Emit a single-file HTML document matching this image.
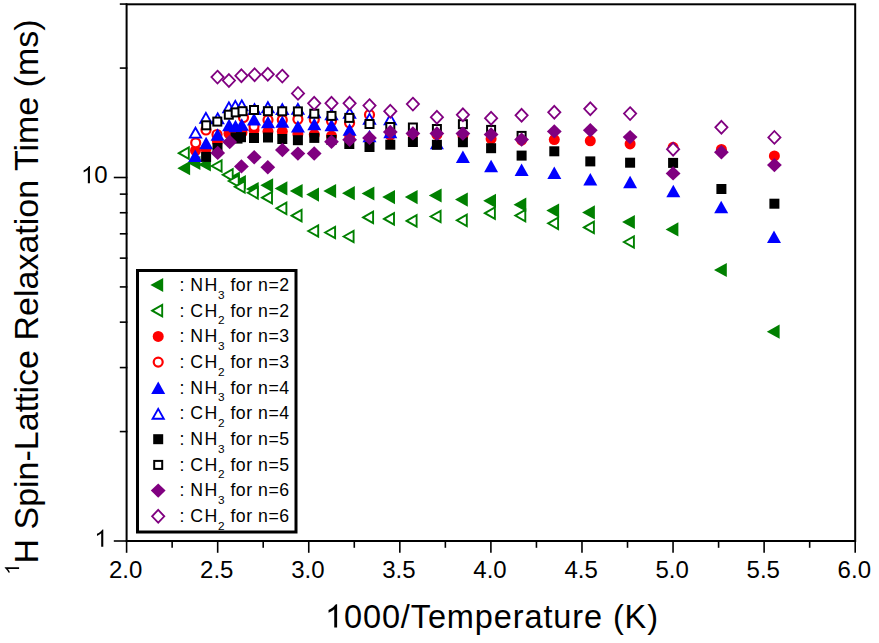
<!DOCTYPE html><html><head><meta charset="utf-8"><style>html,body{margin:0;padding:0;background:#fff;}svg{display:block;}text{font-family:"Liberation Sans",sans-serif;}</style></head><body>
<svg width="879" height="643" viewBox="0 0 879 643">
<rect width="879" height="643" fill="#fff"/>
<g>
<path d="M177.3 168.2L190.1 161.1L190.1 175.3Z" fill="#008000"/>
<path d="M187.6 163L200.4 155.9L200.4 170.1Z" fill="#008000"/>
<path d="M198.1 164.5L210.9 157.4L210.9 171.6Z" fill="#008000"/>
<path d="M227.1 178.5L239.9 171.4L239.9 185.6Z" fill="#008000"/>
<path d="M233.1 182L245.9 174.9L245.9 189.1Z" fill="#008000"/>
<path d="M245.9 189L258.7 181.9L258.7 196.1Z" fill="#008000"/>
<path d="M260.3 185.3L273.1 178.2L273.1 192.4Z" fill="#008000"/>
<path d="M274.6 188.4L287.4 181.3L287.4 195.5Z" fill="#008000"/>
<path d="M289.8 191L302.6 183.9L302.6 198.1Z" fill="#008000"/>
<path d="M306.2 194.6L319 187.5L319 201.7Z" fill="#008000"/>
<path d="M323.3 191L336.1 183.9L336.1 198.1Z" fill="#008000"/>
<path d="M342 193.2L354.8 186.1L354.8 200.3Z" fill="#008000"/>
<path d="M361.6 193.5L374.4 186.4L374.4 200.6Z" fill="#008000"/>
<path d="M382.2 197.1L395 190L395 204.2Z" fill="#008000"/>
<path d="M404.8 197.1L417.6 190L417.6 204.2Z" fill="#008000"/>
<path d="M428.8 195.5L441.6 188.4L441.6 202.6Z" fill="#008000"/>
<path d="M455 199.6L467.8 192.5L467.8 206.7Z" fill="#008000"/>
<path d="M483.2 200.8L496 193.7L496 207.9Z" fill="#008000"/>
<path d="M513.5 204.7L526.3 197.6L526.3 211.8Z" fill="#008000"/>
<path d="M546.3 210.6L559.1 203.5L559.1 217.7Z" fill="#008000"/>
<path d="M582.1 212.4L594.9 205.3L594.9 219.5Z" fill="#008000"/>
<path d="M622.1 222L634.9 214.9L634.9 229.1Z" fill="#008000"/>
<path d="M665.6 229.4L678.4 222.3L678.4 236.5Z" fill="#008000"/>
<path d="M714 270L726.8 262.9L726.8 277.1Z" fill="#008000"/>
<path d="M766.8 331.7L779.6 324.6L779.6 338.8Z" fill="#008000"/>
<path d="M178.8 153.2L188.8 147.5L188.8 158.9Z" fill="#fff" stroke="#008000" stroke-width="1.9" stroke-linejoin="miter"/>
<path d="M211.6 166L221.6 160.3L221.6 171.7Z" fill="#fff" stroke="#008000" stroke-width="1.9" stroke-linejoin="miter"/>
<path d="M222.7 174.8L232.7 169.1L232.7 180.5Z" fill="#fff" stroke="#008000" stroke-width="1.9" stroke-linejoin="miter"/>
<path d="M228.7 181L238.7 175.3L238.7 186.7Z" fill="#fff" stroke="#008000" stroke-width="1.9" stroke-linejoin="miter"/>
<path d="M234.7 186.8L244.7 181.1L244.7 192.5Z" fill="#fff" stroke="#008000" stroke-width="1.9" stroke-linejoin="miter"/>
<path d="M247.8 192.8L257.8 187.1L257.8 198.5Z" fill="#fff" stroke="#008000" stroke-width="1.9" stroke-linejoin="miter"/>
<path d="M262 197.7L272 192L272 203.4Z" fill="#fff" stroke="#008000" stroke-width="1.9" stroke-linejoin="miter"/>
<path d="M276.4 208.3L286.4 202.6L286.4 214Z" fill="#fff" stroke="#008000" stroke-width="1.9" stroke-linejoin="miter"/>
<path d="M291.6 215.7L301.6 210L301.6 221.4Z" fill="#fff" stroke="#008000" stroke-width="1.9" stroke-linejoin="miter"/>
<path d="M308.2 231L318.2 225.3L318.2 236.7Z" fill="#fff" stroke="#008000" stroke-width="1.9" stroke-linejoin="miter"/>
<path d="M325.1 232.5L335.1 226.8L335.1 238.2Z" fill="#fff" stroke="#008000" stroke-width="1.9" stroke-linejoin="miter"/>
<path d="M343.6 236.5L353.6 230.8L353.6 242.2Z" fill="#fff" stroke="#008000" stroke-width="1.9" stroke-linejoin="miter"/>
<path d="M363.1 217.4L373.1 211.7L373.1 223.1Z" fill="#fff" stroke="#008000" stroke-width="1.9" stroke-linejoin="miter"/>
<path d="M384 218.9L394 213.2L394 224.6Z" fill="#fff" stroke="#008000" stroke-width="1.9" stroke-linejoin="miter"/>
<path d="M406.6 220.9L416.6 215.2L416.6 226.6Z" fill="#fff" stroke="#008000" stroke-width="1.9" stroke-linejoin="miter"/>
<path d="M430.6 216.5L440.6 210.8L440.6 222.2Z" fill="#fff" stroke="#008000" stroke-width="1.9" stroke-linejoin="miter"/>
<path d="M456.8 220.3L466.8 214.6L466.8 226Z" fill="#fff" stroke="#008000" stroke-width="1.9" stroke-linejoin="miter"/>
<path d="M484.9 213.2L494.9 207.5L494.9 218.9Z" fill="#fff" stroke="#008000" stroke-width="1.9" stroke-linejoin="miter"/>
<path d="M515.3 215.6L525.3 209.9L525.3 221.3Z" fill="#fff" stroke="#008000" stroke-width="1.9" stroke-linejoin="miter"/>
<path d="M548.1 223.3L558.1 217.6L558.1 229Z" fill="#fff" stroke="#008000" stroke-width="1.9" stroke-linejoin="miter"/>
<path d="M583.9 227.4L593.9 221.7L593.9 233.1Z" fill="#fff" stroke="#008000" stroke-width="1.9" stroke-linejoin="miter"/>
<path d="M623.9 242L633.9 236.3L633.9 247.7Z" fill="#fff" stroke="#008000" stroke-width="1.9" stroke-linejoin="miter"/>
<circle cx="195.5" cy="150.5" r="5.5" fill="#ff0000"/>
<circle cx="206" cy="149" r="5.5" fill="#ff0000"/>
<circle cx="217.4" cy="141.5" r="5.5" fill="#ff0000"/>
<circle cx="229" cy="133.5" r="5.5" fill="#ff0000"/>
<circle cx="235.7" cy="132.5" r="5.5" fill="#ff0000"/>
<circle cx="242" cy="132.5" r="5.5" fill="#ff0000"/>
<circle cx="254" cy="130" r="5.5" fill="#ff0000"/>
<circle cx="268" cy="131.5" r="5.5" fill="#ff0000"/>
<circle cx="282.3" cy="131.5" r="5.5" fill="#ff0000"/>
<circle cx="297.9" cy="134" r="5.5" fill="#ff0000"/>
<circle cx="314.3" cy="134.5" r="5.5" fill="#ff0000"/>
<circle cx="331.5" cy="136" r="5.5" fill="#ff0000"/>
<circle cx="349.6" cy="135.5" r="5.5" fill="#ff0000"/>
<circle cx="369.5" cy="139" r="5.5" fill="#ff0000"/>
<circle cx="390.3" cy="135" r="5.5" fill="#ff0000"/>
<circle cx="412.9" cy="134" r="5.5" fill="#ff0000"/>
<circle cx="436.9" cy="134.5" r="5.5" fill="#ff0000"/>
<circle cx="462.9" cy="135.4" r="5.5" fill="#ff0000"/>
<circle cx="491.1" cy="138.8" r="5.5" fill="#ff0000"/>
<circle cx="521.6" cy="140" r="5.5" fill="#ff0000"/>
<circle cx="554.3" cy="139.6" r="5.5" fill="#ff0000"/>
<circle cx="590.3" cy="140.8" r="5.5" fill="#ff0000"/>
<circle cx="630.1" cy="143.9" r="5.5" fill="#ff0000"/>
<circle cx="673.1" cy="147.3" r="5.5" fill="#ff0000"/>
<circle cx="721.4" cy="149.5" r="5.5" fill="#ff0000"/>
<circle cx="774.4" cy="155.9" r="5.5" fill="#ff0000"/>
<circle cx="195.7" cy="142.8" r="4.5" fill="#fff" stroke="#ff0000" stroke-width="2.2"/>
<circle cx="206" cy="130" r="4.5" fill="#fff" stroke="#ff0000" stroke-width="2.2"/>
<circle cx="217" cy="134.5" r="4.5" fill="#fff" stroke="#ff0000" stroke-width="2.2"/>
<circle cx="243.5" cy="117.5" r="4.5" fill="#fff" stroke="#ff0000" stroke-width="2.2"/>
<circle cx="254" cy="126.3" r="4.5" fill="#fff" stroke="#ff0000" stroke-width="2.2"/>
<circle cx="268" cy="120" r="4.5" fill="#fff" stroke="#ff0000" stroke-width="2.2"/>
<circle cx="282.3" cy="120" r="4.5" fill="#fff" stroke="#ff0000" stroke-width="2.2"/>
<circle cx="297.9" cy="119.2" r="4.5" fill="#fff" stroke="#ff0000" stroke-width="2.2"/>
<circle cx="314.3" cy="119.5" r="4.5" fill="#fff" stroke="#ff0000" stroke-width="2.2"/>
<circle cx="331.5" cy="121" r="4.5" fill="#fff" stroke="#ff0000" stroke-width="2.2"/>
<circle cx="349.6" cy="123" r="4.5" fill="#fff" stroke="#ff0000" stroke-width="2.2"/>
<circle cx="369.5" cy="114.7" r="4.5" fill="#fff" stroke="#ff0000" stroke-width="2.2"/>
<path d="M195.2 149.5L202.2 161.9L188.2 161.9Z" fill="#0000ff"/>
<path d="M206.1 136.8L213.1 149.2L199.1 149.2Z" fill="#0000ff"/>
<path d="M217.6 128.3L224.6 140.7L210.6 140.7Z" fill="#0000ff"/>
<path d="M229.1 118.8L236.1 131.2L222.1 131.2Z" fill="#0000ff"/>
<path d="M235.5 119.8L242.5 132.2L228.5 132.2Z" fill="#0000ff"/>
<path d="M241.8 118.3L248.8 130.7L234.8 130.7Z" fill="#0000ff"/>
<path d="M254 113L261 125.4L247 125.4Z" fill="#0000ff"/>
<path d="M268 115.8L275 128.2L261 128.2Z" fill="#0000ff"/>
<path d="M282.3 115.4L289.3 127.8L275.3 127.8Z" fill="#0000ff"/>
<path d="M297.9 120.2L304.9 132.6L290.9 132.6Z" fill="#0000ff"/>
<path d="M314.3 117.8L321.3 130.2L307.3 130.2Z" fill="#0000ff"/>
<path d="M331.5 118.8L338.5 131.2L324.5 131.2Z" fill="#0000ff"/>
<path d="M349.6 123.3L356.6 135.7L342.6 135.7Z" fill="#0000ff"/>
<path d="M369.5 129.8L376.5 142.2L362.5 142.2Z" fill="#0000ff"/>
<path d="M390.3 125.8L397.3 138.2L383.3 138.2Z" fill="#0000ff"/>
<path d="M436.9 136.8L443.9 149.2L429.9 149.2Z" fill="#0000ff"/>
<path d="M462.9 150.6L469.9 163L455.9 163Z" fill="#0000ff"/>
<path d="M491.1 159.8L498.1 172.2L484.1 172.2Z" fill="#0000ff"/>
<path d="M521.6 163.6L528.6 176L514.6 176Z" fill="#0000ff"/>
<path d="M554.3 166.5L561.3 178.9L547.3 178.9Z" fill="#0000ff"/>
<path d="M590.3 173L597.3 185.4L583.3 185.4Z" fill="#0000ff"/>
<path d="M630.1 175.8L637.1 188.2L623.1 188.2Z" fill="#0000ff"/>
<path d="M673.3 184.8L680.3 197.2L666.3 197.2Z" fill="#0000ff"/>
<path d="M721.2 200.8L728.2 213.2L714.2 213.2Z" fill="#0000ff"/>
<path d="M774 230.6L781 243L767 243Z" fill="#0000ff"/>
<path d="M195.5 127.7L201.1 137.6L189.9 137.6Z" fill="#fff" stroke="#0000ff" stroke-width="1.9"/>
<path d="M205.9 112.9L211.5 122.8L200.3 122.8Z" fill="#fff" stroke="#0000ff" stroke-width="1.9"/>
<path d="M217.7 113.4L223.3 123.3L212.1 123.3Z" fill="#fff" stroke="#0000ff" stroke-width="1.9"/>
<path d="M228.9 102.4L234.5 112.3L223.3 112.3Z" fill="#fff" stroke="#0000ff" stroke-width="1.9"/>
<path d="M235.3 100.9L240.9 110.8L229.7 110.8Z" fill="#fff" stroke="#0000ff" stroke-width="1.9"/>
<path d="M241.8 100.4L247.4 110.3L236.2 110.3Z" fill="#fff" stroke="#0000ff" stroke-width="1.9"/>
<path d="M254.5 104.2L260.1 114.1L248.9 114.1Z" fill="#fff" stroke="#0000ff" stroke-width="1.9"/>
<path d="M267.9 102.3L273.5 112.2L262.3 112.2Z" fill="#fff" stroke="#0000ff" stroke-width="1.9"/>
<path d="M282.3 104.2L287.9 114.1L276.7 114.1Z" fill="#fff" stroke="#0000ff" stroke-width="1.9"/>
<path d="M297.9 103.9L303.5 113.8L292.3 113.8Z" fill="#fff" stroke="#0000ff" stroke-width="1.9"/>
<path d="M314.3 107.4L319.9 117.3L308.7 117.3Z" fill="#fff" stroke="#0000ff" stroke-width="1.9"/>
<path d="M331.5 109.4L337.1 119.3L325.9 119.3Z" fill="#fff" stroke="#0000ff" stroke-width="1.9"/>
<path d="M349.6 107.9L355.2 117.8L344 117.8Z" fill="#fff" stroke="#0000ff" stroke-width="1.9"/>
<path d="M369.5 113.9L375.1 123.8L363.9 123.8Z" fill="#fff" stroke="#0000ff" stroke-width="1.9"/>
<path d="M390.3 114.4L395.9 124.3L384.7 124.3Z" fill="#fff" stroke="#0000ff" stroke-width="1.9"/>
<rect x="201.1" y="151.9" width="10" height="10" fill="#000000"/>
<rect x="212.5" y="143" width="10" height="10" fill="#000000"/>
<rect x="230.5" y="132.5" width="10" height="10" fill="#000000"/>
<rect x="232.5" y="133.6" width="10" height="10" fill="#000000"/>
<rect x="236" y="132.2" width="10" height="10" fill="#000000"/>
<rect x="249" y="133" width="10" height="10" fill="#000000"/>
<rect x="263" y="132.5" width="10" height="10" fill="#000000"/>
<rect x="277.3" y="134" width="10" height="10" fill="#000000"/>
<rect x="292.9" y="135.2" width="10" height="10" fill="#000000"/>
<rect x="309.3" y="132.9" width="10" height="10" fill="#000000"/>
<rect x="326.5" y="135" width="10" height="10" fill="#000000"/>
<rect x="344.3" y="139" width="10" height="10" fill="#000000"/>
<rect x="364.5" y="142" width="10" height="10" fill="#000000"/>
<rect x="385.3" y="139.7" width="10" height="10" fill="#000000"/>
<rect x="407.9" y="137" width="10" height="10" fill="#000000"/>
<rect x="431.9" y="139.8" width="10" height="10" fill="#000000"/>
<rect x="457.9" y="137.2" width="10" height="10" fill="#000000"/>
<rect x="486.1" y="143.2" width="10" height="10" fill="#000000"/>
<rect x="516.6" y="150.6" width="10" height="10" fill="#000000"/>
<rect x="549.3" y="146.3" width="10" height="10" fill="#000000"/>
<rect x="585.3" y="156.4" width="10" height="10" fill="#000000"/>
<rect x="625.1" y="157.7" width="10" height="10" fill="#000000"/>
<rect x="668.1" y="157.9" width="10" height="10" fill="#000000"/>
<rect x="716.4" y="184" width="10" height="10" fill="#000000"/>
<rect x="769.4" y="198.7" width="10" height="10" fill="#000000"/>
<rect x="202.2" y="121.3" width="8" height="8" fill="#fff" stroke="#000000" stroke-width="2"/>
<rect x="213.3" y="117.6" width="8" height="8" fill="#fff" stroke="#000000" stroke-width="2"/>
<rect x="224.8" y="110.7" width="8" height="8" fill="#fff" stroke="#000000" stroke-width="2"/>
<rect x="231.7" y="108.4" width="8" height="8" fill="#fff" stroke="#000000" stroke-width="2"/>
<rect x="238.5" y="107.2" width="8" height="8" fill="#fff" stroke="#000000" stroke-width="2"/>
<rect x="250" y="106" width="8" height="8" fill="#fff" stroke="#000000" stroke-width="2"/>
<rect x="263.9" y="107.2" width="8" height="8" fill="#fff" stroke="#000000" stroke-width="2"/>
<rect x="278.2" y="107.3" width="8" height="8" fill="#fff" stroke="#000000" stroke-width="2"/>
<rect x="293.9" y="107.4" width="8" height="8" fill="#fff" stroke="#000000" stroke-width="2"/>
<rect x="310.3" y="109.7" width="8" height="8" fill="#fff" stroke="#000000" stroke-width="2"/>
<rect x="327.5" y="111.9" width="8" height="8" fill="#fff" stroke="#000000" stroke-width="2"/>
<rect x="345.3" y="113.9" width="8" height="8" fill="#fff" stroke="#000000" stroke-width="2"/>
<rect x="365.5" y="120" width="8" height="8" fill="#fff" stroke="#000000" stroke-width="2"/>
<rect x="386.3" y="123" width="8" height="8" fill="#fff" stroke="#000000" stroke-width="2"/>
<rect x="408.9" y="123.5" width="8" height="8" fill="#fff" stroke="#000000" stroke-width="2"/>
<rect x="432.9" y="125" width="8" height="8" fill="#fff" stroke="#000000" stroke-width="2"/>
<rect x="458.9" y="120.2" width="8" height="8" fill="#fff" stroke="#000000" stroke-width="2"/>
<rect x="487.1" y="125.9" width="8" height="8" fill="#fff" stroke="#000000" stroke-width="2"/>
<rect x="517.6" y="131.9" width="8" height="8" fill="#fff" stroke="#000000" stroke-width="2"/>
<path d="M217.7 145.7L225.1 152.9L217.7 160.1L210.3 152.9Z" fill="#800080"/>
<path d="M229.7 134.8L237.1 142L229.7 149.2L222.3 142Z" fill="#800080"/>
<path d="M241.4 159.2L248.8 166.4L241.4 173.6L234 166.4Z" fill="#800080"/>
<path d="M254.2 150.1L261.6 157.3L254.2 164.5L246.8 157.3Z" fill="#800080"/>
<path d="M267.8 160.1L275.2 167.3L267.8 174.5L260.4 167.3Z" fill="#800080"/>
<path d="M282.4 142.8L289.8 150L282.4 157.2L275 150Z" fill="#800080"/>
<path d="M297.9 146.4L305.3 153.6L297.9 160.8L290.5 153.6Z" fill="#800080"/>
<path d="M314.2 146.3L321.6 153.5L314.2 160.7L306.8 153.5Z" fill="#800080"/>
<path d="M331.5 134.5L338.9 141.7L331.5 148.9L324.1 141.7Z" fill="#800080"/>
<path d="M349.6 132.5L357 139.7L349.6 146.9L342.2 139.7Z" fill="#800080"/>
<path d="M369.5 130.7L376.9 137.9L369.5 145.1L362.1 137.9Z" fill="#800080"/>
<path d="M390.3 124.7L397.7 131.9L390.3 139.1L382.9 131.9Z" fill="#800080"/>
<path d="M412.9 126.2L420.3 133.4L412.9 140.6L405.5 133.4Z" fill="#800080"/>
<path d="M436.9 126.2L444.3 133.4L436.9 140.6L429.5 133.4Z" fill="#800080"/>
<path d="M462.9 126.4L470.3 133.6L462.9 140.8L455.5 133.6Z" fill="#800080"/>
<path d="M491.1 127.3L498.5 134.5L491.1 141.7L483.7 134.5Z" fill="#800080"/>
<path d="M521.6 132.4L529 139.6L521.6 146.8L514.2 139.6Z" fill="#800080"/>
<path d="M554.3 124.2L561.7 131.4L554.3 138.6L546.9 131.4Z" fill="#800080"/>
<path d="M590.3 123L597.7 130.2L590.3 137.4L582.9 130.2Z" fill="#800080"/>
<path d="M630.1 129.9L637.5 137.1L630.1 144.3L622.7 137.1Z" fill="#800080"/>
<path d="M673.1 166.2L680.5 173.4L673.1 180.6L665.7 173.4Z" fill="#800080"/>
<path d="M721.4 145L728.8 152.2L721.4 159.4L714 152.2Z" fill="#800080"/>
<path d="M774.4 157.9L781.8 165.1L774.4 172.3L767 165.1Z" fill="#800080"/>
<path d="M217.5 70.7L223.6 77.1L217.5 83.5L211.4 77.1Z" fill="#fff" stroke="#800080" stroke-width="1.8"/>
<path d="M228.9 74.1L235 80.5L228.9 86.9L222.8 80.5Z" fill="#fff" stroke="#800080" stroke-width="1.8"/>
<path d="M241.4 69.3L247.5 75.7L241.4 82.1L235.3 75.7Z" fill="#fff" stroke="#800080" stroke-width="1.8"/>
<path d="M254.6 68.3L260.7 74.7L254.6 81.1L248.5 74.7Z" fill="#fff" stroke="#800080" stroke-width="1.8"/>
<path d="M267.8 67.9L273.9 74.3L267.8 80.7L261.7 74.3Z" fill="#fff" stroke="#800080" stroke-width="1.8"/>
<path d="M282.3 69.7L288.4 76.1L282.3 82.5L276.2 76.1Z" fill="#fff" stroke="#800080" stroke-width="1.8"/>
<path d="M298 87L304.1 93.4L298 99.8L291.9 93.4Z" fill="#fff" stroke="#800080" stroke-width="1.8"/>
<path d="M314.2 96.9L320.3 103.3L314.2 109.7L308.1 103.3Z" fill="#fff" stroke="#800080" stroke-width="1.8"/>
<path d="M331.5 96.9L337.6 103.3L331.5 109.7L325.4 103.3Z" fill="#fff" stroke="#800080" stroke-width="1.8"/>
<path d="M349.6 96.9L355.7 103.3L349.6 109.7L343.5 103.3Z" fill="#fff" stroke="#800080" stroke-width="1.8"/>
<path d="M369.5 99.2L375.6 105.6L369.5 112L363.4 105.6Z" fill="#fff" stroke="#800080" stroke-width="1.8"/>
<path d="M390.3 104.8L396.4 111.2L390.3 117.6L384.2 111.2Z" fill="#fff" stroke="#800080" stroke-width="1.8"/>
<path d="M412.9 97.7L419 104.1L412.9 110.5L406.8 104.1Z" fill="#fff" stroke="#800080" stroke-width="1.8"/>
<path d="M436.9 110.8L443 117.2L436.9 123.6L430.8 117.2Z" fill="#fff" stroke="#800080" stroke-width="1.8"/>
<path d="M462.9 108.4L469 114.8L462.9 121.2L456.8 114.8Z" fill="#fff" stroke="#800080" stroke-width="1.8"/>
<path d="M491.1 111.8L497.2 118.2L491.1 124.6L485 118.2Z" fill="#fff" stroke="#800080" stroke-width="1.8"/>
<path d="M521.6 108.9L527.7 115.3L521.6 121.7L515.5 115.3Z" fill="#fff" stroke="#800080" stroke-width="1.8"/>
<path d="M554.3 105.9L560.4 112.3L554.3 118.7L548.2 112.3Z" fill="#fff" stroke="#800080" stroke-width="1.8"/>
<path d="M590.3 102.4L596.4 108.8L590.3 115.2L584.2 108.8Z" fill="#fff" stroke="#800080" stroke-width="1.8"/>
<path d="M630.1 107.2L636.2 113.6L630.1 120L624 113.6Z" fill="#fff" stroke="#800080" stroke-width="1.8"/>
<path d="M673.1 142.8L679.2 149.2L673.1 155.6L667 149.2Z" fill="#fff" stroke="#800080" stroke-width="1.8"/>
<path d="M721.4 120.9L727.5 127.3L721.4 133.7L715.3 127.3Z" fill="#fff" stroke="#800080" stroke-width="1.8"/>
<path d="M774.4 131L780.5 137.4L774.4 143.8L768.3 137.4Z" fill="#fff" stroke="#800080" stroke-width="1.8"/>
</g>
<g stroke="#000" stroke-width="2.0" fill="none" stroke-linecap="square">
<rect x="126.6" y="4.3" width="728.6" height="536.7"/>
<line x1="126.6" y1="541" x2="126.6" y2="552" stroke-width="1.6"/>
<line x1="217.68" y1="541" x2="217.68" y2="552" stroke-width="1.6"/>
<line x1="308.75" y1="541" x2="308.75" y2="552" stroke-width="1.6"/>
<line x1="399.83" y1="541" x2="399.83" y2="552" stroke-width="1.6"/>
<line x1="490.9" y1="541" x2="490.9" y2="552" stroke-width="1.6"/>
<line x1="581.98" y1="541" x2="581.98" y2="552" stroke-width="1.6"/>
<line x1="673.05" y1="541" x2="673.05" y2="552" stroke-width="1.6"/>
<line x1="764.12" y1="541" x2="764.12" y2="552" stroke-width="1.6"/>
<line x1="855.2" y1="541" x2="855.2" y2="552" stroke-width="1.6"/>
<line x1="172.14" y1="541" x2="172.14" y2="547" stroke-width="1.6"/>
<line x1="263.21" y1="541" x2="263.21" y2="547" stroke-width="1.6"/>
<line x1="354.29" y1="541" x2="354.29" y2="547" stroke-width="1.6"/>
<line x1="445.36" y1="541" x2="445.36" y2="547" stroke-width="1.6"/>
<line x1="536.44" y1="541" x2="536.44" y2="547" stroke-width="1.6"/>
<line x1="627.51" y1="541" x2="627.51" y2="547" stroke-width="1.6"/>
<line x1="718.59" y1="541" x2="718.59" y2="547" stroke-width="1.6"/>
<line x1="809.66" y1="541" x2="809.66" y2="547" stroke-width="1.6"/>
<line x1="114.6" y1="541" x2="126.6" y2="541" stroke-width="1.6"/>
<line x1="114.6" y1="177.5" x2="126.6" y2="177.5" stroke-width="1.6"/>
<line x1="120.6" y1="431.58" x2="126.6" y2="431.58" stroke-width="1.6"/>
<line x1="120.6" y1="367.57" x2="126.6" y2="367.57" stroke-width="1.6"/>
<line x1="120.6" y1="322.15" x2="126.6" y2="322.15" stroke-width="1.6"/>
<line x1="120.6" y1="286.92" x2="126.6" y2="286.92" stroke-width="1.6"/>
<line x1="120.6" y1="258.14" x2="126.6" y2="258.14" stroke-width="1.6"/>
<line x1="120.6" y1="233.81" x2="126.6" y2="233.81" stroke-width="1.6"/>
<line x1="120.6" y1="212.73" x2="126.6" y2="212.73" stroke-width="1.6"/>
<line x1="120.6" y1="194.13" x2="126.6" y2="194.13" stroke-width="1.6"/>
<line x1="120.6" y1="68.08" x2="126.6" y2="68.08" stroke-width="1.6"/>
<line x1="120.6" y1="4.07" x2="126.6" y2="4.07" stroke-width="1.6"/>
</g>
<g font-size="24" fill="#000">
<text x="125.7" y="577.6" text-anchor="middle">2.0</text>
<text x="216.78" y="577.6" text-anchor="middle">2.5</text>
<text x="307.85" y="577.6" text-anchor="middle">3.0</text>
<text x="398.93" y="577.6" text-anchor="middle">3.5</text>
<text x="490" y="577.6" text-anchor="middle">4.0</text>
<text x="581.08" y="577.6" text-anchor="middle">4.5</text>
<text x="672.15" y="577.6" text-anchor="middle">5.0</text>
<text x="763.23" y="577.6" text-anchor="middle">5.5</text>
<text x="854.3" y="577.6" text-anchor="middle">6.0</text>
<polygon points="89.95,183.3 87.84,183.3 87.84,169.86 87.01,170.58 85.81,171.37 83.63,172.4 83.63,170.36 85.33,169.5 87.01,168.3 88.31,166.96 89.1,166.12 89.95,166.12" fill="#000"/>
<text x="94.36" y="183.3">0</text>
<polygon points="103.3,546.8 101.19,546.8 101.19,533.36 100.36,534.08 99.16,534.87 96.98,535.9 96.98,533.86 98.68,533 100.36,531.8 101.66,530.46 102.45,529.62 103.3,529.62" fill="#000"/>
</g>
<polygon points="337.11,627.5 334.25,627.5 334.25,609.3 333.12,610.27 331.5,611.35 328.54,612.75 328.54,609.98 330.85,608.81 333.12,607.19 334.88,605.37 335.95,604.23 337.11,604.23" fill="#000"/>
<text x="343.96" y="627.5" font-size="32.5" textLength="314.04" lengthAdjust="spacing">000/Temperature (K)</text>
<g transform="translate(37.8,297) rotate(-90)">
<polygon points="-270.2,-18.7 -271.96,-18.7 -271.96,-29.9 -272.66,-29.3 -273.66,-28.64 -275.48,-27.78 -275.48,-29.48 -274.06,-30.2 -272.66,-31.2 -271.58,-32.32 -270.92,-33.02 -270.2,-33.02" fill="#000"/>
<text x="-266.54" y="0" font-size="34">H Spin-Lattice Relaxation Time (ms)</text>
</g>
<rect x="137.5" y="270.5" width="158.5" height="261.5" fill="#fff" stroke="#000" stroke-width="3"/>
<path d="M150.4 285L163.2 277.9L163.2 292.1Z" fill="#008000"/>
<text x="179.6" y="291" font-size="17.7">:</text>
<text x="190.3" y="291" font-size="17.7" letter-spacing="1.5">NH</text>
<text x="218.0" y="298.8" font-size="11.8">3</text>
<text x="230.4" y="291" font-size="17.7" textLength="58.8" lengthAdjust="spacing">for n=2</text>
<path d="M152.2 310.7L162.2 305L162.2 316.4Z" fill="#fff" stroke="#008000" stroke-width="1.9" stroke-linejoin="miter"/>
<text x="179.6" y="316.65" font-size="17.7">:</text>
<text x="190.3" y="316.65" font-size="17.7" letter-spacing="1.5">CH</text>
<text x="218.0" y="324.45" font-size="11.8">2</text>
<text x="230.4" y="316.65" font-size="17.7" textLength="58.8" lengthAdjust="spacing">for n=2</text>
<circle cx="158.2" cy="336.4" r="5.5" fill="#ff0000"/>
<text x="179.6" y="342.3" font-size="17.7">:</text>
<text x="190.3" y="342.3" font-size="17.7" letter-spacing="1.5">NH</text>
<text x="218.0" y="350.1" font-size="11.8">3</text>
<text x="230.4" y="342.3" font-size="17.7" textLength="58.8" lengthAdjust="spacing">for n=3</text>
<circle cx="158.2" cy="362.1" r="4.5" fill="#fff" stroke="#ff0000" stroke-width="2.2"/>
<text x="179.6" y="367.95" font-size="17.7">:</text>
<text x="190.3" y="367.95" font-size="17.7" letter-spacing="1.5">CH</text>
<text x="218.0" y="375.75" font-size="11.8">2</text>
<text x="230.4" y="367.95" font-size="17.7" textLength="58.8" lengthAdjust="spacing">for n=3</text>
<path d="M158.2 381.6L165.2 394L151.2 394Z" fill="#0000ff"/>
<text x="179.6" y="393.6" font-size="17.7">:</text>
<text x="190.3" y="393.6" font-size="17.7" letter-spacing="1.5">NH</text>
<text x="218.0" y="401.4" font-size="11.8">3</text>
<text x="230.4" y="393.6" font-size="17.7" textLength="58.8" lengthAdjust="spacing">for n=4</text>
<path d="M158.2 408.9L163.8 418.8L152.6 418.8Z" fill="#fff" stroke="#0000ff" stroke-width="1.9"/>
<text x="179.6" y="419.25" font-size="17.7">:</text>
<text x="190.3" y="419.25" font-size="17.7" letter-spacing="1.5">CH</text>
<text x="218.0" y="427.05" font-size="11.8">2</text>
<text x="230.4" y="419.25" font-size="17.7" textLength="58.8" lengthAdjust="spacing">for n=4</text>
<rect x="153.2" y="434.2" width="10" height="10" fill="#000000"/>
<text x="179.6" y="444.9" font-size="17.7">:</text>
<text x="190.3" y="444.9" font-size="17.7" letter-spacing="1.5">NH</text>
<text x="218.0" y="452.7" font-size="11.8">3</text>
<text x="230.4" y="444.9" font-size="17.7" textLength="58.8" lengthAdjust="spacing">for n=5</text>
<rect x="154.2" y="460.9" width="8" height="8" fill="#fff" stroke="#000000" stroke-width="2"/>
<text x="179.6" y="470.55" font-size="17.7">:</text>
<text x="190.3" y="470.55" font-size="17.7" letter-spacing="1.5">CH</text>
<text x="218.0" y="478.35" font-size="11.8">2</text>
<text x="230.4" y="470.55" font-size="17.7" textLength="58.8" lengthAdjust="spacing">for n=5</text>
<path d="M158.2 483.4L165.6 490.6L158.2 497.8L150.8 490.6Z" fill="#800080"/>
<text x="179.6" y="496.2" font-size="17.7">:</text>
<text x="190.3" y="496.2" font-size="17.7" letter-spacing="1.5">NH</text>
<text x="218.0" y="504" font-size="11.8">3</text>
<text x="230.4" y="496.2" font-size="17.7" textLength="58.8" lengthAdjust="spacing">for n=6</text>
<path d="M158.2 509.9L164.3 516.3L158.2 522.7L152.1 516.3Z" fill="#fff" stroke="#800080" stroke-width="1.8"/>
<text x="179.6" y="521.85" font-size="17.7">:</text>
<text x="190.3" y="521.85" font-size="17.7" letter-spacing="1.5">CH</text>
<text x="218.0" y="529.65" font-size="11.8">2</text>
<text x="230.4" y="521.85" font-size="17.7" textLength="58.8" lengthAdjust="spacing">for n=6</text>
</svg></body></html>
